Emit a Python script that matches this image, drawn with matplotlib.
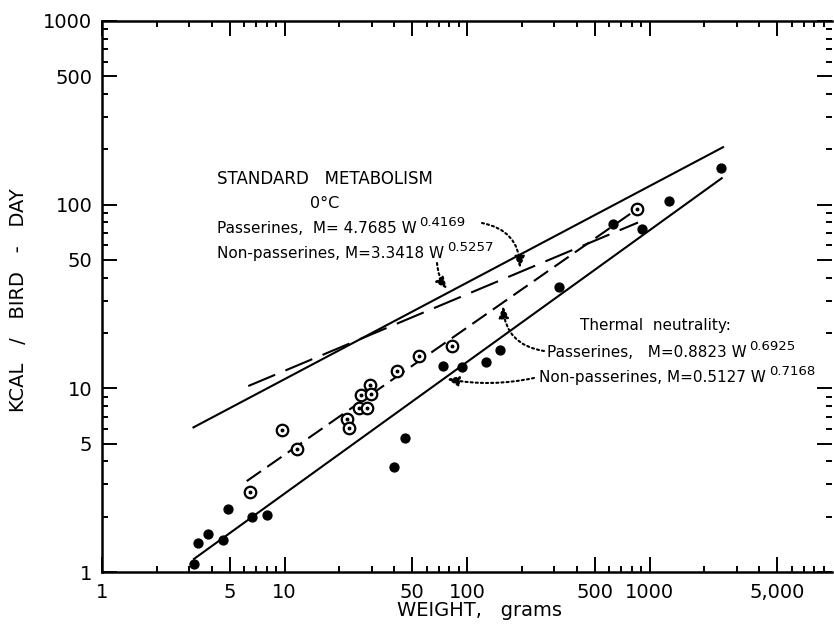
import numpy as np
import matplotlib
matplotlib.use("Agg")
import matplotlib.pyplot as plt
from matplotlib.ticker import FixedLocator, FixedFormatter, LogLocator, NullFormatter

plt.rcParams['font.family'] = ['DejaVu Sans']
plt.rcParams['lines.scale_dashes'] = False

# ---------------- data ----------------
# Passerines (circled dots)
passerine_w = [6.47, 9.69, 11.76, 22.1, 22.6, 25.5, 26.1, 28.4, 29.4, 29.6, 41.5, 54.8, 82.7, 857]
passerine_m = [2.73, 5.93, 4.65, 6.83, 6.08, 7.81, 9.16, 7.81, 10.46, 9.31, 12.4, 15.05, 17.06, 94.6]
# Non-passerines (filled dots)
nonpass_w = [3.19, 3.37, 3.82, 4.62, 4.88, 6.66, 7.99, 39.8, 45.7, 74.2, 93.9, 127, 152,
             320, 634, 914, 1284, 2465]
nonpass_m = [1.11, 1.43, 1.62, 1.49, 2.21, 2.0, 2.04, 3.74, 5.38, 13.3, 13.1, 13.85, 16.2,
             35.7, 78.4, 73.9, 104.6, 157.7]

# Regression lines M = a * W**b (equations printed on the chart)
line_names = ["std_pass", "std_nonpass", "tn_pass", "tn_nonpass"]
line_a = [4.7685, 3.3418, 0.8823, 0.5127]
line_b = [0.4169, 0.5257, 0.6925, 0.7168]
line_w_start = [6.33, 3.17, 6.21, 3.19]
line_w_end = [865, 2529, 857, 2488]

x_ticks = [1, 5, 10, 50, 100, 500, 1000, 5000]
x_tick_labels = ["1", "5", "10", "50", "100", "500", "1000", "5,000"]
y_ticks = [1, 5, 10, 50, 100, 500, 1000]
y_tick_labels = ["1", "5", "10", "50", "100", "500", "1000"]

# ---------------- figure ----------------
W, H = 834, 630
fig = plt.figure(figsize=(W / 100, H / 100), dpi=100)
L, R, T, B = 102, 832, 21, 572
ax = fig.add_axes([L / W, (H - B) / H, (R - L) / W, (B - T) / H])
ax.set_xscale("log")
ax.set_yscale("log")
ax.set_xlim(1, 10000)
ax.set_ylim(1, 1000)


def P(x, y):
    """pixel position in the picture -> axes fraction"""
    return ((x - L) / (R - L), (B - y) / (B - T))


# lines
styles = {
    "std_pass": dict(linestyle=(0, (21, 8))),
    "std_nonpass": dict(linestyle="-"),
    "tn_pass": dict(linestyle=(0, (12.5, 5.5))),
    "tn_nonpass": dict(linestyle="-"),
}
for name, a, b, w0, w1 in zip(line_names, line_a, line_b, line_w_start, line_w_end):
    ww = np.array([w0, w1])
    ax.plot(ww, a * ww ** b, color="black", lw=1.5, zorder=2, **styles[name])

# points
ax.plot(nonpass_w, nonpass_m, "o", color="black", ms=6.4, zorder=4)
ax.plot(passerine_w, passerine_m, "o", mfc="white", mec="black", mew=1.6, ms=8.3, zorder=4)
ax.plot(passerine_w, passerine_m, "o", color="black", ms=1.8, zorder=5)

# ticks
ax.xaxis.set_major_locator(FixedLocator(x_ticks))
ax.xaxis.set_major_formatter(FixedFormatter(x_tick_labels))
ax.xaxis.set_minor_locator(LogLocator(base=10, subs=[2, 3, 4, 6, 7, 8, 9], numticks=20))
ax.xaxis.set_minor_formatter(NullFormatter())
ax.yaxis.set_major_locator(FixedLocator(y_ticks))
ax.yaxis.set_major_formatter(FixedFormatter(y_tick_labels))
ax.yaxis.set_minor_locator(LogLocator(base=10, subs=[2, 3, 4, 6, 7, 8, 9], numticks=20))
ax.yaxis.set_minor_formatter(NullFormatter())
ax.tick_params(which="both", direction="in", top=True, right=True, width=1.4, color="black")
ax.tick_params(which="major", length=11, labelsize=14)
ax.tick_params(which="minor", length=4.5)
ax.tick_params(axis="x", which="major", pad=8)
ax.tick_params(axis="y", which="major", pad=7)

for s in ["left", "bottom", "top"]:
    ax.spines[s].set_linewidth(1.8)
ax.spines["right"].set_visible(False)

ax.set_xlabel("WEIGHT,   grams", fontsize=14)
ax.xaxis.set_label_coords(*P(479, 601))
ax.set_ylabel("KCAL   /   BIRD   -   DAY", fontsize=14)
ax.yaxis.set_label_coords(*P(28, 300))

# annotations
tkw = dict(transform=ax.transAxes, fontsize=11, color="black")
ax.text(*P(217, 184), "STANDARD   METABOLISM", ha="left", va="baseline",
        transform=ax.transAxes, fontsize=12)
ax.text(*P(325, 208), "0°C", ha="center", va="baseline", transform=ax.transAxes, fontsize=11.5)


def eq(x, y, base, sup):
    t = ax.text(*P(x, y), base, ha="left", va="baseline", **tkw)
    ax.annotate(sup, xy=(1, 0), xycoords=t, xytext=(2, 7), textcoords="offset points",
                ha="left", va="baseline", fontsize=9.5)
    return t


eq(217, 233, "Passerines,  M= 4.7685 W", "0.4169")
eq(217, 258, "Non-passerines, M=3.3418 W", "0.5257")
ax.text(*P(580, 330), "Thermal  neutrality:", ha="left", va="baseline", **tkw)
eq(547, 357, "Passerines,   M=0.8823 W", "0.6925")
eq(539, 382, "Non-passerines, M=0.5127 W", "0.7168")

dotted = (0, (1.5, 2.2))


def darrow(start, end, rad):
    ax.annotate("", xy=P(*end), xytext=P(*start), xycoords="axes fraction",
                textcoords="axes fraction",
                arrowprops=dict(arrowstyle="-|>,head_length=0.7,head_width=0.3",
                                connectionstyle=f"arc3,rad={rad}", linestyle=dotted,
                                lw=1.5, color="black", shrinkA=0, shrinkB=0,
                                mutation_scale=10))


darrow((482, 223), (520, 268), -0.4)
darrow((437, 263), (447, 289), 0.15)
darrow((544, 351), (503, 306), -0.4)
darrow((534, 378), (447, 379), -0.1)

fig.savefig("out.png", dpi=100)
